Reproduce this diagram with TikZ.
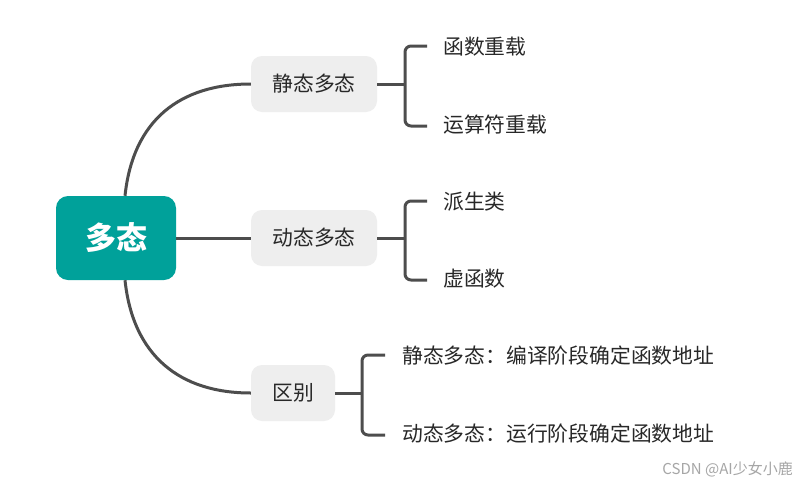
\documentclass[tikz,border=0pt]{standalone}
\usepackage{fontspec}
\setmainfont{Noto Sans CJK SC}
\definecolor{teal1}{RGB}{0,161,154}
\definecolor{boxgray}{RGB}{238,238,238}
\definecolor{linegray}{RGB}{77,77,77}
\definecolor{txt}{RGB}{40,40,40}
\tikzset{
  conn/.style={draw=linegray, line width=3pt},
  midbox/.style={fill=boxgray, rounded corners=11pt, minimum height=56pt, inner sep=0pt, text=txt, font=\fontsize{20.8}{21}\selectfont},
  leaf/.style={anchor=west, inner sep=0pt, text=txt, font=\fontsize{20.8}{21}\selectfont},
}
\begin{document}
\begin{tikzpicture}[x=1pt,y=-1pt]
\useasboundingbox[fill=white] (0,0) rectangle (798,485);
\node[fill=teal1, rounded corners=12pt, minimum width=120pt, minimum height=84pt, text=white, font=\fontsize{31}{31}\selectfont\bfseries] (root) at (116,238) {多态};
\node[midbox, minimum width=126pt] (s) at (314,84) {静态多态};
\node[midbox, minimum width=126pt] (d) at (314,238) {动态多态};
\node[midbox, minimum width=84pt] (q) at (293,393) {区别};

\node[leaf] (s1) at (443,47) {函数重载};
\node[leaf] (s2) at (443,125) {运算符重载};
\node[leaf] (d1) at (443,202) {派生类};
\node[leaf] (d2) at (443,279) {虚函数};
\node[leaf] (q1) at (402,356) {静态多态：编译阶段确定函数地址};
\node[leaf] (q2) at (402,434) {动态多态：运行阶段确定函数地址};

\draw[conn] ([xshift=9pt]root.north) .. controls (133,120) and (180,84) .. (s.west);
\draw[conn] (root.east) -- (d.west);
\draw[conn] ([xshift=9pt]root.south) .. controls (133,356) and (180,393) .. (q.west);

\coordinate (sb) at (405,84);
\coordinate (db) at (405,238);
\coordinate (qb) at (362,393);
\draw[conn] (s.east) -- (sb);
\draw[conn] (d.east) -- (db);
\draw[conn] (q.east) -- (qb);
\draw[conn, rounded corners=6pt] ([xshift=-16pt,yshift=1pt]s1.west) -| (sb) |- ([xshift=-16pt,yshift=-1pt]s2.west);
\draw[conn, rounded corners=6pt] ([xshift=-16pt,yshift=1pt]d1.west) -| (db) |- ([xshift=-16pt,yshift=-1pt]d2.west);
\draw[conn, rounded corners=6pt] ([xshift=-17pt,yshift=1pt]q1.west) -| (qb) |- ([xshift=-17pt,yshift=-1pt]q2.west);

\node[anchor=east, inner sep=0pt, text=black!35, font=\fontsize{15}{15}\selectfont] (wm) at (793,469) {CSDN @AI少女小鹿};
\end{tikzpicture}
\end{document}
